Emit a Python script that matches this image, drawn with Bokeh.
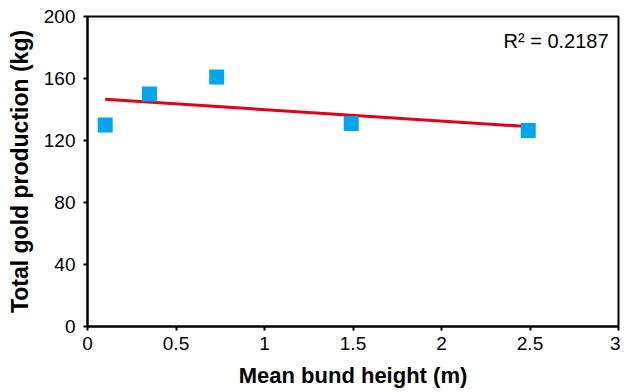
import numpy as np
from bokeh.plotting import figure
from bokeh.models import Range1d, FixedTicker, Label, ColumnDataSource
from bokeh.embed import file_html
from bokeh.resources import INLINE

# Data
bund_height = [0.10, 0.35, 0.73, 1.49, 2.49]
gold_production = [130, 150, 161, 131, 126.5]
x_ticks = [0, 0.5, 1, 1.5, 2, 2.5, 3]
y_ticks = [0, 40, 80, 120, 160, 200]
r2_text = "R² = 0.2187"

FONT = "Liberation Sans"

p = figure(width=620, height=392, output_backend="svg", toolbar_location=None,
           x_range=Range1d(0, 3), y_range=Range1d(0, 200),
           min_border_top=16, min_border_right=2, min_border_left=87, min_border_bottom=66)
p.background_fill_color = "white"
p.border_fill_color = "white"
p.grid.visible = False
p.outline_line_color = "black"
p.outline_line_width = 2

# Trend line via least squares
slope, intercept = np.polyfit(bund_height, gold_production, 1)
xl = [min(bund_height), max(bund_height)]
yl = [slope * v + intercept for v in xl]
p.line(xl, yl, line_color="#E2001A", line_width=3)

src = ColumnDataSource(dict(x=bund_height, y=gold_production))
p.scatter("x", "y", source=src, marker="square", size=15,
          fill_color="#00A6EB", line_color=None)

for ax in (p.xaxis[0], p.yaxis[0]):
    ax.axis_line_color = "black"
    ax.axis_line_width = 2
    ax.major_tick_line_color = "black"
    ax.major_tick_line_width = 2
    ax.major_tick_out = 4
    ax.major_tick_in = 0
    ax.minor_tick_line_color = None
    ax.major_label_text_font = FONT
    ax.major_label_text_font_size = "19px"
    ax.major_label_text_color = "black"
    ax.axis_label_text_font = FONT
    ax.axis_label_text_font_style = "bold"
    ax.axis_label_text_color = "black"

p.xaxis[0].ticker = FixedTicker(ticks=x_ticks)
p.yaxis[0].ticker = FixedTicker(ticks=y_ticks)
p.xaxis[0].major_label_overrides = {v: (str(int(v)) if float(v).is_integer() else str(v)) for v in x_ticks}
p.xaxis[0].axis_label = "Mean bund height (m)"
p.yaxis[0].axis_label = "Total gold production (kg)"
p.xaxis[0].axis_label_text_font_size = "22px"
p.yaxis[0].axis_label_text_font_size = "23px"
p.xaxis[0].major_label_standoff = 6
p.yaxis[0].major_label_standoff = 8
p.xaxis[0].axis_label_standoff = 10
p.yaxis[0].axis_label_standoff = 8

p.add_layout(Label(x=2.944, y=184, text=r2_text, text_align="right", text_baseline="middle",
                   text_font=FONT, text_font_size="20px", text_color="black"))

open("out.html", "w").write(file_html(p, INLINE))
